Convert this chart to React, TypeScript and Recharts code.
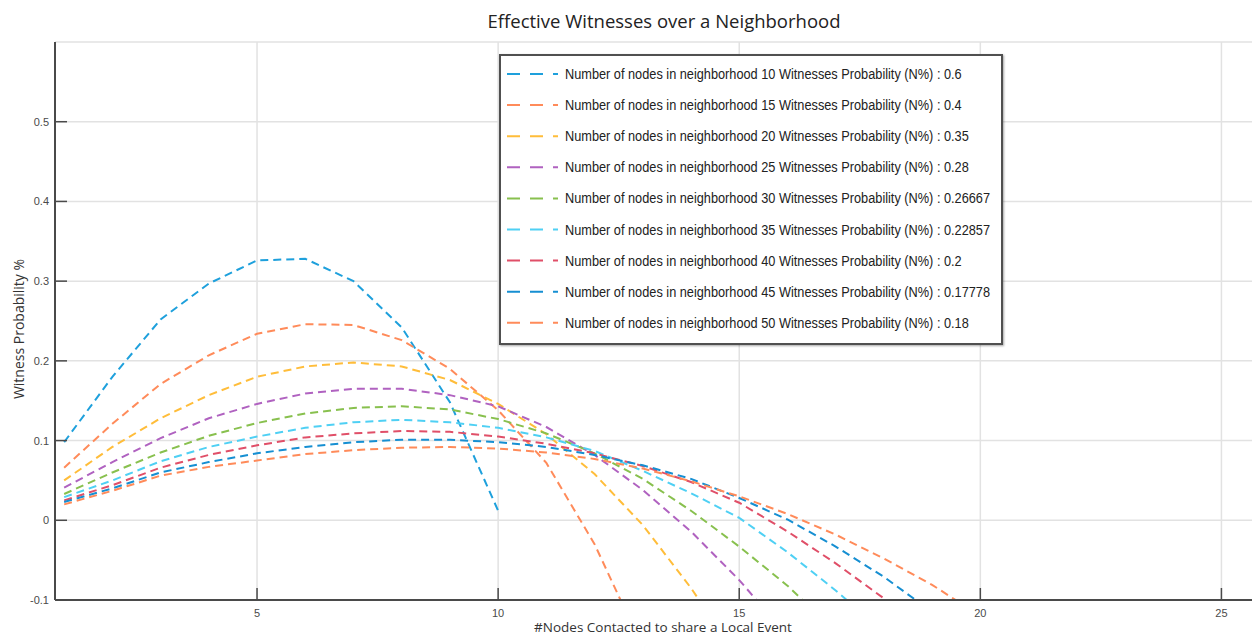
import React from "react";
import { CartesianGrid, Line, LineChart, XAxis, YAxis } from "recharts";

// x = number of nodes contacted
const xValues = [1, 2, 3, 4, 5, 6, 7, 8, 9, 10, 11, 12, 13, 14, 15, 16, 17, 18, 19, 20];

// witness probability per neighborhood size
const series10 = [0.098, 0.18, 0.252, 0.297, 0.326, 0.328, 0.3, 0.242, 0.148, 0.012];
const series15 = [0.066, 0.121, 0.171, 0.207, 0.234, 0.246, 0.245, 0.226, 0.19, 0.138, 0.072, -0.03, -0.16];
const series20 = [0.05, 0.092, 0.128, 0.157, 0.18, 0.193, 0.198, 0.193, 0.176, 0.146, 0.108, 0.058, -0.006, -0.085, -0.175];
const series25 = [0.041, 0.073, 0.103, 0.128, 0.146, 0.159, 0.165, 0.165, 0.157, 0.143, 0.117, 0.082, 0.038, -0.014, -0.075, -0.145];
const series30 = [0.033, 0.06, 0.085, 0.106, 0.122, 0.134, 0.141, 0.143, 0.139, 0.127, 0.109, 0.084, 0.052, 0.012, -0.033, -0.082, -0.14];
const series35 = [0.029, 0.05, 0.074, 0.092, 0.105, 0.116, 0.123, 0.126, 0.123, 0.116, 0.104, 0.087, 0.062, 0.034, 0.003, -0.04, -0.088, -0.14];
const series40 = [0.025, 0.044, 0.066, 0.082, 0.094, 0.104, 0.109, 0.112, 0.111, 0.105, 0.096, 0.084, 0.068, 0.048, 0.022, -0.014, -0.054, -0.098, -0.145];
const series45 = [0.023, 0.04, 0.06, 0.073, 0.084, 0.092, 0.098, 0.101, 0.101, 0.098, 0.092, 0.082, 0.069, 0.052, 0.028, 0.001, -0.033, -0.071, -0.115];
const series50 = [0.02, 0.037, 0.056, 0.067, 0.075, 0.083, 0.088, 0.091, 0.092, 0.09, 0.085, 0.077, 0.065, 0.049, 0.03, 0.008, -0.018, -0.048, -0.081, -0.12];

const neighborhoodSizes = [10, 15, 20, 25, 30, 35, 40, 45, 50];
const witnessProbabilities = ["0.6", "0.4", "0.35", "0.28", "0.26667", "0.22857", "0.2", "0.17778", "0.18"];
const seriesColors = ["#1ea0dc", "#ff8b5a", "#ffbd3a", "#b062c0", "#88c04e", "#4fd0f4", "#e04f68", "#168fd2", "#ff8b5a"];

const xTicks = [5, 10, 15, 20, 25];
const yTicks = [-0.1, 0, 0.1, 0.2, 0.3, 0.4, 0.5];

const allSeries = [series10, series15, series20, series25, series30, series35, series40, series45, series50];

const data = xValues.map((x, i) => {
  const row: Record<string, number | undefined> = { x };
  allSeries.forEach((s, j) => {
    row[`n${neighborhoodSizes[j]}`] = s[i];
  });
  return row;
});

const axisColor = "#4a4a4a";
const tickFont = "'Liberation Sans', Arial, sans-serif";

const BottomTick = (props: any) => {
  const { x, y, payload } = props;
  return (
    <g>
      <line x1={x} x2={x} y1={y} y2={y - 12} stroke={axisColor} strokeWidth={1.5} />
      <text x={x} y={y + 17} textAnchor="middle" fontSize={11} fill="#4a4a4a" fontFamily={tickFont}>
        {payload.value}
      </text>
    </g>
  );
};

const TopTick = (props: any) => {
  const { x, y } = props;
  return <line x1={x} x2={x} y1={y} y2={y + 12} stroke={axisColor} strokeWidth={1.5} />;
};

const LeftTick = (props: any) => {
  const { x, y, payload } = props;
  return (
    <g>
      <line x1={x} x2={x + 12} y1={y} y2={y} stroke={axisColor} strokeWidth={1.5} />
      <text x={x - 6} y={y + 4} textAnchor="end" fontSize={11} fill="#4a4a4a" fontFamily={tickFont}>
        {payload.value}
      </text>
    </g>
  );
};

const RightTick = (props: any) => {
  const { x, y } = props;
  return <line x1={x} x2={x - 12} y1={y} y2={y} stroke={axisColor} strokeWidth={1.5} />;
};

const labelFont = "'Open Sans', 'Noto Sans', sans-serif";

const LegendBox = () => (
  <div
    style={{
      position: "absolute",
      left: 499,
      top: 54,
      width: 500,
      height: 287,
      border: "2px solid #505050",
      background: "#fff",
      boxShadow: "1px 1px 2px rgba(0,0,0,0.35)",
    }}
  >
    <svg width={500} height={287}>
      {neighborhoodSizes.map((n, i) => {
        const cy = 18 + i * 31.1;
        return (
          <g key={n}>
            <line
              x1={6}
              x2={57}
              y1={cy}
              y2={cy}
              stroke={seriesColors[i]}
              strokeWidth={2}
              strokeDasharray="13 10"
            />
            <text
              transform={`translate(64 ${cy + 5}) scale(0.88 1)`}
              fontSize={14.5}
              fill="#222"
              fontFamily={tickFont}
            >
              {`Number of nodes in neighborhood ${n} Witnesses Probability (N%) : ${witnessProbabilities[i]}`}
            </text>
          </g>
        );
      })}
    </svg>
  </div>
);

export default function App() {
  return (
    <div
      style={{
        position: "absolute",
        left: 0,
        top: 0,
        width: 1252,
        height: 637,
        overflow: "hidden",
        background: "#fff",
      }}
    >
      <LineChart
        width={1270}
        height={637}
        data={data}
        margin={{ top: 42, right: 10, bottom: 0, left: 0 }}
      >
        <CartesianGrid stroke="#e2e2e2" strokeWidth={1.5} />
        <XAxis
          dataKey="x"
          type="number"
          domain={[0.81, 25.8]}
          ticks={xTicks}
          allowDataOverflow
          height={37}
          tickSize={0}
          tickMargin={0}
          tick={<BottomTick />}
          axisLine={{ stroke: axisColor, strokeWidth: 2 }}
          tickLine={false}
        />
        <XAxis
          xAxisId="top"
          orientation="top"
          dataKey="x"
          type="number"
          domain={[0.81, 25.8]}
          ticks={xTicks}
          allowDataOverflow
          height={0}
          tickSize={0}
          tickMargin={0}
          tick={<TopTick />}
          axisLine={{ stroke: axisColor, strokeWidth: 2 }}
          tickLine={false}
        />
        <YAxis
          type="number"
          domain={[-0.1, 0.6]}
          ticks={yTicks}
          allowDataOverflow
          width={55}
          tickSize={0}
          tickMargin={0}
          tick={<LeftTick />}
          axisLine={{ stroke: axisColor, strokeWidth: 2 }}
          tickLine={false}
        />
        <YAxis
          yAxisId="right"
          orientation="right"
          type="number"
          domain={[-0.1, 0.6]}
          ticks={yTicks}
          allowDataOverflow
          width={0}
          tickSize={0}
          tickMargin={0}
          tick={<RightTick />}
          axisLine={{ stroke: axisColor, strokeWidth: 2 }}
          tickLine={false}
        />
        {neighborhoodSizes.map((n, i) => (
          <Line
            key={n}
            type="linear"
            dataKey={`n${n}`}
            stroke={seriesColors[i]}
            strokeWidth={2}
            strokeDasharray="8 5"
            dot={false}
            activeDot={false}
            isAnimationActive={false}
          />
        ))}
      </LineChart>
      <LegendBox />
      <div
        style={{
          position: "absolute",
          left: 664,
          top: 20,
          transform: "translate(-50%, -50%)",
          whiteSpace: "nowrap",
          fontFamily: labelFont,
          fontSize: 18.5,
          color: "#222",
        }}
      >
        Effective Witnesses over a Neighborhood
      </div>
      <div
        style={{
          position: "absolute",
          left: 663,
          top: 627,
          transform: "translate(-50%, -50%)",
          whiteSpace: "nowrap",
          fontFamily: labelFont,
          fontSize: 13.5,
          lineHeight: "13px",
          color: "#333",
        }}
      >
        #Nodes Contacted to share a Local Event
      </div>
      <div
        style={{
          position: "absolute",
          left: 18,
          top: 329,
          transform: "translate(-50%, -50%) rotate(-90deg)",
          whiteSpace: "nowrap",
          fontFamily: labelFont,
          fontSize: 14,
          color: "#333",
        }}
      >
        Witness Probability %
      </div>
    </div>
  );
}
